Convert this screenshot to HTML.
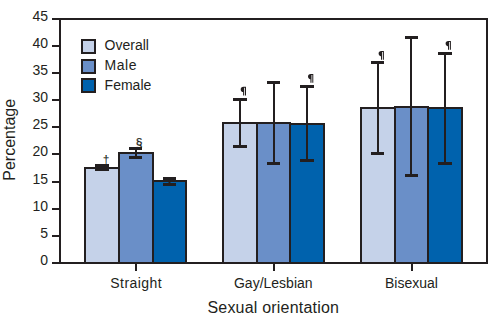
<!DOCTYPE html><html><head><meta charset="utf-8"><style>html,body{margin:0;padding:0;background:#fff;}svg{display:block;}text{font-family:"Liberation Sans",sans-serif;fill:#231f20;}</style></head><body>
<svg width="499" height="325" viewBox="0 0 499 325">
<rect x="85" y="168" width="34" height="95" fill="#c5d2e9" stroke="#231f20" stroke-width="2"/>
<rect x="119" y="153" width="34" height="110" fill="#6a8fc8" stroke="#231f20" stroke-width="2"/>
<rect x="153" y="181" width="33" height="82" fill="#0062ad" stroke="#231f20" stroke-width="2"/>
<rect x="223" y="123" width="34" height="140" fill="#c5d2e9" stroke="#231f20" stroke-width="2"/>
<rect x="257" y="123" width="33" height="140" fill="#6a8fc8" stroke="#231f20" stroke-width="2"/>
<rect x="290" y="124" width="34" height="139" fill="#0062ad" stroke="#231f20" stroke-width="2"/>
<rect x="361" y="108" width="34" height="155" fill="#c5d2e9" stroke="#231f20" stroke-width="2"/>
<rect x="395" y="107" width="33" height="156" fill="#6a8fc8" stroke="#231f20" stroke-width="2"/>
<rect x="428" y="108" width="34" height="155" fill="#0062ad" stroke="#231f20" stroke-width="2"/>
<rect x="95" y="164" width="14" height="7" fill="#231f20"/>
<rect x="135" y="147" width="2" height="9" fill="#231f20"/>
<rect x="129" y="147" width="13" height="3" fill="#231f20"/>
<rect x="129" y="156" width="13" height="3" fill="#231f20"/>
<rect x="168.5" y="177" width="2" height="6" fill="#231f20"/>
<rect x="163" y="177" width="13" height="3" fill="#231f20"/>
<rect x="163" y="183" width="13" height="3" fill="#231f20"/>
<rect x="239" y="98" width="2" height="47" fill="#231f20"/>
<rect x="233" y="98" width="14" height="3" fill="#231f20"/>
<rect x="233" y="145" width="14" height="3" fill="#231f20"/>
<rect x="273" y="81" width="2" height="81" fill="#231f20"/>
<rect x="267" y="81" width="13" height="3" fill="#231f20"/>
<rect x="267" y="162" width="13" height="3" fill="#231f20"/>
<rect x="306" y="85" width="2" height="74" fill="#231f20"/>
<rect x="300" y="85" width="14" height="3" fill="#231f20"/>
<rect x="300" y="159" width="14" height="3" fill="#231f20"/>
<rect x="377" y="61" width="2" height="91" fill="#231f20"/>
<rect x="371" y="61" width="13" height="3" fill="#231f20"/>
<rect x="371" y="152" width="13" height="3" fill="#231f20"/>
<rect x="410" y="36" width="2" height="138" fill="#231f20"/>
<rect x="405" y="36" width="13" height="3" fill="#231f20"/>
<rect x="405" y="174" width="13" height="3" fill="#231f20"/>
<rect x="444" y="52" width="2" height="110" fill="#231f20"/>
<rect x="438" y="52" width="14" height="3" fill="#231f20"/>
<rect x="438" y="162" width="14" height="3" fill="#231f20"/>
<path d="M60 264 V19 H487 V263 H52" fill="none" stroke="#231f20" stroke-width="2"/>
<rect x="52" y="262" width="8" height="2" fill="#231f20"/>
<text x="48" y="265.40" font-size="14" text-anchor="end">0</text>
<rect x="52" y="235" width="8" height="2" fill="#231f20"/>
<text x="48" y="238.40" font-size="14" text-anchor="end">5</text>
<rect x="52" y="208" width="8" height="2" fill="#231f20"/>
<text x="48" y="211.40" font-size="14" text-anchor="end">10</text>
<rect x="52" y="181" width="8" height="2" fill="#231f20"/>
<text x="48" y="184.40" font-size="14" text-anchor="end">15</text>
<rect x="52" y="153" width="8" height="2" fill="#231f20"/>
<text x="48" y="156.40" font-size="14" text-anchor="end">20</text>
<rect x="52" y="126" width="8" height="2" fill="#231f20"/>
<text x="48" y="129.40" font-size="14" text-anchor="end">25</text>
<rect x="52" y="99" width="8" height="2" fill="#231f20"/>
<text x="48" y="102.40" font-size="14" text-anchor="end">30</text>
<rect x="52" y="72" width="8" height="2" fill="#231f20"/>
<text x="48" y="75.40" font-size="14" text-anchor="end">35</text>
<rect x="52" y="45" width="8" height="2" fill="#231f20"/>
<text x="48" y="48.40" font-size="14" text-anchor="end">40</text>
<rect x="52" y="18" width="8" height="2" fill="#231f20"/>
<text x="48" y="21.40" font-size="14" text-anchor="end">45</text>
<rect x="135" y="263" width="2" height="8" fill="#231f20"/>
<rect x="273" y="263" width="2" height="8" fill="#231f20"/>
<rect x="411" y="263" width="2" height="8" fill="#231f20"/>
<text x="136.2" y="287.8" font-size="14" letter-spacing="0.45" text-anchor="middle">Straight</text>
<text x="273.3" y="287.8" font-size="14" text-anchor="middle">Gay/Lesbian</text>
<text x="411.5" y="287.8" font-size="14" text-anchor="middle">Bisexual</text>
<text x="273.3" y="312.8" font-size="16" letter-spacing="0.2" text-anchor="middle">Sexual orientation</text>
<text transform="translate(15 139.8) rotate(-90)" x="0" y="0" font-size="16" text-anchor="middle">Percentage</text>
<rect x="82" y="40" width="13" height="13" fill="#c5d2e9" stroke="#231f20" stroke-width="2"/>
<text x="104.6" y="50.00" font-size="14">Overall</text>
<rect x="82" y="60" width="13" height="13" fill="#6a8fc8" stroke="#231f20" stroke-width="2"/>
<text x="104.6" y="69.85" font-size="14" letter-spacing="0.5">Male</text>
<rect x="82" y="79" width="13" height="13" fill="#0062ad" stroke="#231f20" stroke-width="2"/>
<text x="104.6" y="89.70" font-size="14">Female</text>
<text x="106" y="163.8" font-size="12" text-anchor="middle">†</text>
<text x="139.2" y="146.6" font-size="12" stroke="#231f20" stroke-width="0.25" text-anchor="middle">§</text>
<path d="M243.40 86.80 H246.00 V95.50 H245.00 V87.80 H244.20 V95.50 H243.10 V92.00 C241.60 92.00 240.70 90.90 240.70 89.40 C240.70 87.90 241.60 86.80 243.40 86.80 Z" fill="#231f20"/>
<path d="M310.70 74.00 H313.30 V82.70 H312.30 V75.00 H311.50 V82.70 H310.40 V79.20 C308.90 79.20 308.00 78.10 308.00 76.60 C308.00 75.10 308.90 74.00 310.70 74.00 Z" fill="#231f20"/>
<path d="M381.30 51.00 H383.90 V59.70 H382.90 V52.00 H382.10 V59.70 H381.00 V56.20 C379.50 56.20 378.60 55.10 378.60 53.60 C378.60 52.10 379.50 51.00 381.30 51.00 Z" fill="#231f20"/>
<path d="M448.30 41.00 H450.90 V49.70 H449.90 V42.00 H449.10 V49.70 H448.00 V46.20 C446.50 46.20 445.60 45.10 445.60 43.60 C445.60 42.10 446.50 41.00 448.30 41.00 Z" fill="#231f20"/>
</svg></body></html>
